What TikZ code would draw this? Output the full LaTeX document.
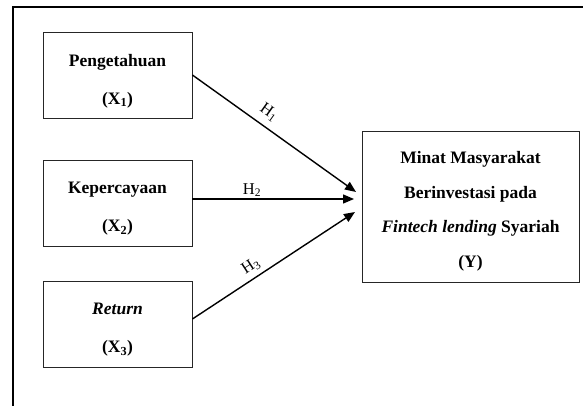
\documentclass[tikz,border=0pt]{standalone}
\usepackage{fontspec}
\setmainfont{Liberation Serif}
\usetikzlibrary{arrows.meta}
\begin{document}
\begin{tikzpicture}[x=1pt,y=-1pt,
  varbox/.style={draw=black!85,line width=0.8pt,rectangle,inner sep=0pt},
  vartext/.style={inner sep=0pt,align=center,
    font=\fontsize{17.5}{38}\selectfont\bfseries},
  ytext/.style={vartext,font=\fontsize{17.5}{34.5}\selectfont\bfseries},
  path/.style={line width=1.4pt,-{Triangle[length=11pt,width=9pt]}},
  hyp/.style={font=\fontsize{16.5}{16.5}\selectfont,inner sep=0pt}]
  \useasboundingbox (0,0) rectangle (583,406);
  % outer frame (top and left edges)
  \draw[line width=1.3pt] (13,406) -- (13,7) -- (583,7);
  % independent variables
  \node[varbox,minimum width=149pt,minimum height=86pt] (b1) at (117.5,75) {};
  \node[varbox,minimum width=149pt,minimum height=86pt] (b2) at (117.5,203) {};
  \node[varbox,minimum width=149pt,minimum height=86pt] (b3) at (117.5,324) {};
  \node[vartext] (b1t) at ([yshift=-6pt]b1.center) {Pengetahuan\\(X\textsubscript{1})};
  \node[vartext] (b2t) at ([yshift=-6pt]b2.center) {Kepercayaan\\(X\textsubscript{2})};
  \node[vartext] (b3t) at ([yshift=-6pt]b3.center) {\textit{Return}\\(X\textsubscript{3})};
  % dependent variable
  \node[varbox,minimum width=217pt,minimum height=151pt] (y) at (470.5,206.5) {};
  \node[ytext] (yt) at ([yshift=-5pt]y.center)
    {Minat Masyarakat\\Berinvestasi pada\\\textit{Fintech lending} Syariah\\(Y)};
  % arrow tips
  \coordinate (t1) at (356,192);
  \coordinate (t2) at (354,199);
  \coordinate (t3) at (355,212);
  \draw[path] (b1.east) -- (t1);
  \draw[path] ([yshift=4pt]b2.east) -- (t2);
  \draw[path] ([yshift=5pt]b3.east) -- (t3);
  % hypothesis labels
  \node[hyp,rotate=-35.5] (h1) at (269,112) {H\textsubscript{1}};
  \node[hyp] (h2) at (252,190) {H\textsubscript{2}};
  \node[hyp,rotate=33] (h3) at (251,266) {H\textsubscript{3}};
\end{tikzpicture}
\end{document}
